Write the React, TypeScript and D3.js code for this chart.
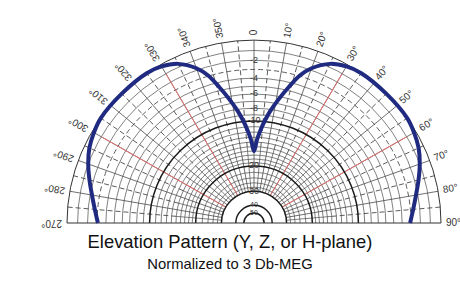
import React from 'react';
import * as d3 from 'd3';

// elevation pattern, one side (0..90 deg), mirrored to 270..360
const patternAngles = [0, 2, 4, 6, 8, 11, 14, 17, 20, 25, 30, 35, 45, 55, 60, 65, 70, 75, 80, 85, 90];
const patternDb = [-16, -13.5, -11.5, -9.8, -8.3, -6.4, -4.6, -2.9, -1.8, -0.7, -0.2, 0, 0, 0, -0.2, -0.5, -1, -1.6, -2.2, -2.7, -3.1];

const fineRings = [-1, -2, -4, -5, -6, -7, -8, -9, -11, -12, -13, -14, -15, -16, -17, -18, -19, -22, -24, -26, -28];
const boldRings = [-10, -20, -30, -40, -50];
const dbLabels = ['-2', '-4', '-6', '-8', '-10', '20', '30', '40', '50'];
const dbLabelValues = [-2, -4, -6, -8, -10, -20, -30, -40, -50];
const angleTicks = [270, 280, 290, 300, 310, 320, 330, 340, 350, 0, 10, 20, 30, 40, 50, 60, 70, 80, 90];
const redAngles = [-60, -30, 30, 60];

const W = 460;
const H = 289;
const cx = 254;
const cy = 223;
const R = 187;
const ky = 0.978;

// ARRL log-periodic radial scale: 0.89 per 2 dB
const rScale = (db: number) => R * Math.pow(0.89, -db / 2);
const rad = (deg: number) => (deg * Math.PI) / 180;

const halfArc = (r: number) => {
  const p = d3.path();
  p.moveTo(-r, 0);
  p.arc(0, 0, r, Math.PI, 2 * Math.PI);
  return p.toString();
};

const App: React.FC = () => {
  const pts: [number, number][] = [];
  for (let i = patternAngles.length - 1; i > 0; i--) pts.push([-patternAngles[i], patternDb[i]]);
  patternAngles.forEach((a, i) => pts.push([a, patternDb[i]]));

  const line = d3.lineRadial<[number, number]>()
    .angle(d => rad(d[0]))
    .radius(d => rScale(d[1]))
    .curve(d3.curveCatmullRom.alpha(0.5));

  const spokes10 = d3.range(-80, 81, 10);
  const spokes5 = d3.range(-85, 86, 10);

  const gridStroke = '#4a4a4a';

  return (
    <svg width={W} height={H} style={{ position: 'absolute', left: 0, top: 0, background: '#fff' }}
      fontFamily="Arial, 'Liberation Sans', sans-serif">
      <g transform={`translate(${cx},${cy}) scale(1,${ky})`}>
        {fineRings.map(db => (
          <path key={'f' + db} d={halfArc(rScale(db))} fill="none" stroke={gridStroke}
            strokeWidth={0.7} vectorEffect="non-scaling-stroke" />
        ))}
        <path d={halfArc(rScale(-3))} fill="none" stroke={gridStroke} strokeWidth={0.9}
          strokeDasharray="5,3" vectorEffect="non-scaling-stroke" />
        {spokes10.map(a => (
          <line key={'s' + a}
            x1={rScale(-30) * Math.sin(rad(a))} y1={-rScale(-30) * Math.cos(rad(a))}
            x2={R * Math.sin(rad(a))} y2={-R * Math.cos(rad(a))}
            stroke={gridStroke} strokeWidth={0.8} vectorEffect="non-scaling-stroke" />
        ))}
        {spokes5.map(a => (
          <g key={'d' + a}>
            <line
              x1={rScale(-30) * Math.sin(rad(a))} y1={-rScale(-30) * Math.cos(rad(a))}
              x2={rScale(-15) * Math.sin(rad(a))} y2={-rScale(-15) * Math.cos(rad(a))}
              stroke={gridStroke} strokeWidth={0.7} vectorEffect="non-scaling-stroke" />
            <line
              x1={rScale(-15) * Math.sin(rad(a))} y1={-rScale(-15) * Math.cos(rad(a))}
              x2={R * Math.sin(rad(a))} y2={-R * Math.cos(rad(a))}
              stroke={gridStroke} strokeWidth={0.9} strokeDasharray="5,3" vectorEffect="non-scaling-stroke" />
          </g>
        ))}
        {redAngles.map(a => (
          <line key={'r' + a}
            x1={rScale(-30) * Math.sin(rad(a))} y1={-rScale(-30) * Math.cos(rad(a))}
            x2={rScale(-1) * Math.sin(rad(a))} y2={-rScale(-1) * Math.cos(rad(a))}
            stroke="#e8716f" strokeWidth={1} vectorEffect="non-scaling-stroke" />
        ))}
        <path d={halfArc(rScale(-30))} fill="#fff" stroke="none" />
        {boldRings.map(db => (
          <path key={'b' + db} d={halfArc(rScale(db))} fill="none" stroke="#1a1a1a"
            strokeWidth={1.5} vectorEffect="non-scaling-stroke" />
        ))}
        <path d={halfArc(R)} fill="none" stroke="#333" strokeWidth={1} vectorEffect="non-scaling-stroke" />
        <line x1={-R} y1={0} x2={R} y2={0} stroke="#333" strokeWidth={1} vectorEffect="non-scaling-stroke" />
        <path d={line(pts) || ''} fill="none" stroke="#1f2a80" strokeWidth={4}
          strokeLinecap="butt" vectorEffect="non-scaling-stroke" />
      </g>
      {dbLabelValues.map((db, i) => (
        <text key={'l' + db} x={cx} y={cy - rScale(db) * ky} textAnchor="middle" dominantBaseline="middle"
          fontSize={db <= -40 ? 7 : 9} fill="#333">
          {dbLabels[i]}
        </text>
      ))}
      {angleTicks.map(t => {
        const a = t > 180 ? t - 360 : t;
        const x = cx + (R + 5) * Math.sin(rad(a));
        const y = cy - (R + 5) * ky * Math.cos(rad(a));
        return (
          <text key={'a' + t} transform={`translate(${x},${y}) rotate(${a - 90})`}
            dominantBaseline="middle" fontSize={10} fill="#333">
            {t === 0 ? '0' : `${t}°`}
          </text>
        );
      })}
      <text x={230} y={248} textAnchor="middle" fontSize={18.4} fill="#111">
        Elevation Pattern (Y, Z, or H-plane)
      </text>
      <text x={230} y={269} textAnchor="middle" fontSize={14.8} fill="#111">
        Normalized to 3 Db-MEG
      </text>
    </svg>
  );
};

export default App;
